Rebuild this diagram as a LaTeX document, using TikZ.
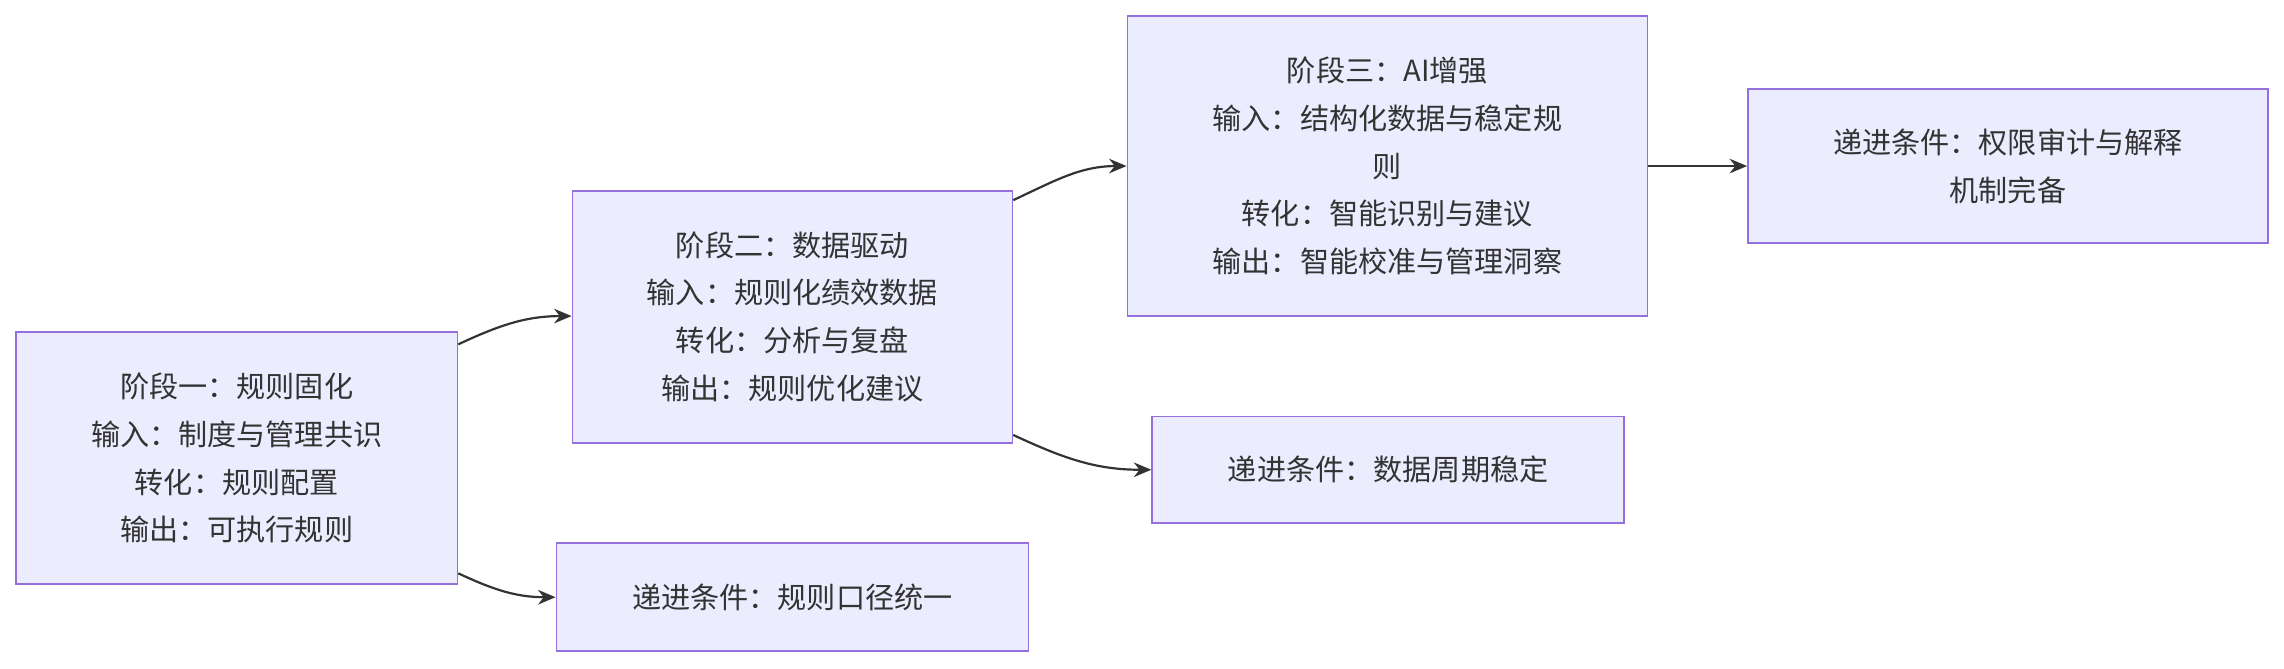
\documentclass[tikz,border=0pt]{standalone}
\usepackage{fontspec}
\setmainfont{Noto Sans CJK SC}
\usetikzlibrary{arrows.meta}
\definecolor{bfill}{HTML}{ECECFF}
\definecolor{bdraw}{HTML}{9370DB}
\definecolor{arr}{HTML}{333333}
\begin{document}
\begin{tikzpicture}[x=0.5pt,y=-0.5pt,
  box/.style={draw=bdraw,fill=bfill,line width=0.6pt,align=center,inner sep=0pt,font=\fontsize{10pt}{16.4pt}\selectfont,text=arr},
  link/.style={draw=arr,line width=0.75pt,-{Stealth[length=6pt,width=5pt]}}]
\useasboundingbox (0,0) rectangle (1568,459);
\node[box,minimum width=151.5pt,minimum height=86.5pt] (A) at (162.5,314.5) {阶段一：规则固化\\输入：制度与管理共识\\转化：规则配置\\输出：可执行规则};
\node[box,minimum width=151pt,minimum height=86.5pt] (B) at (544,217.5) {阶段二：数据驱动\\输入：规则化绩效数据\\转化：分析与复盘\\输出：规则优化建议};
\node[box,minimum width=178.5pt,minimum height=103pt] (C) at (952.5,114) {阶段三：AI增强\\输入：结构化数据与稳定规\\则\\转化：智能识别与建议\\输出：智能校准与管理洞察};
\node[box,minimum width=162pt,minimum height=37pt] (D) at (544,410) {递进条件：规则口径统一};
\node[box,minimum width=162pt,minimum height=36.5pt] (E) at (953,322.5) {递进条件：数据周期稳定};
\node[box,minimum width=178.5pt,minimum height=53pt] (F) at (1378.5,114) {递进条件：权限审计与解释\\机制完备};
\coordinate (a1) at ([yshift=-4.5pt]A.north east);
\coordinate (a2) at ([yshift=4pt]A.south east);
\coordinate (b1) at ([yshift=-3.5pt]B.north east);
\coordinate (b2) at ([yshift=3pt]B.south east);
\draw[link] (a1) to[out=25,in=180] (B.west |- 0,217);
\draw[link] (a2) to[out=-25,in=180] (D.west);
\draw[link] (b1) to[out=25,in=180] (C.west);
\draw[link] (b2) to[out=-25,in=180] (E.west);
\draw[link] (C.east) -- (F.west);
\end{tikzpicture}
\end{document}
